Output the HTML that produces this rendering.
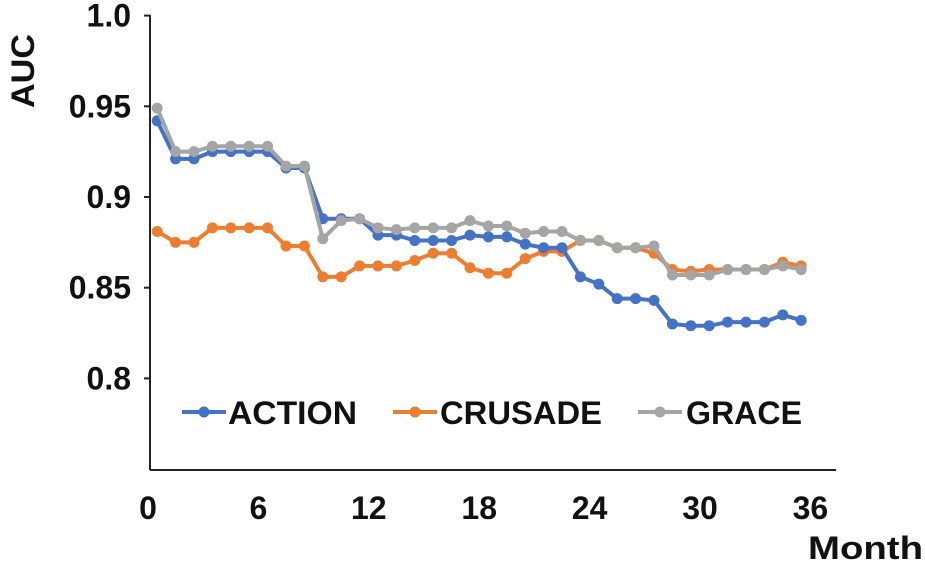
<!DOCTYPE html>
<html><head><style>
body{margin:0;background:#fff;}
text{font-family:"Liberation Sans",sans-serif;font-weight:bold;fill:#111;}
</style></head><body>
<svg id="c" width="925" height="572">
<g id="g"></g>
</svg>
<script>
const months = Array.from({length:36},(_, i)=>i+0.5);
const action = [0.942,0.921,0.921,0.925,0.925,0.925,0.925,0.916,0.916,0.888,0.888,0.888,0.879,0.879,0.876,0.876,0.876,0.879,0.878,0.878,0.874,0.872,0.872,0.856,0.852,0.844,0.844,0.843,0.830,0.829,0.829,0.831,0.831,0.831,0.835,0.832];
const crusade = [0.881,0.875,0.875,0.883,0.883,0.883,0.883,0.873,0.873,0.856,0.856,0.862,0.862,0.862,0.865,0.869,0.869,0.861,0.858,0.858,0.866,0.870,0.870,0.876,0.876,0.872,0.872,0.869,0.860,0.859,0.860,0.860,0.860,0.860,0.864,0.862];
const grace = [0.949,0.925,0.925,0.928,0.928,0.928,0.928,0.917,0.917,0.877,0.887,0.888,0.883,0.882,0.883,0.883,0.883,0.887,0.884,0.884,0.880,0.881,0.881,0.876,0.876,0.872,0.872,0.873,0.857,0.857,0.857,0.860,0.860,0.860,0.862,0.860];
const yTicks = [0.8,0.85,0.9,0.95,1.0];
const yLabels = ["0.8","0.85","0.9","0.95","1.0"];
const xTicks = [0,6,12,18,24,30,36];
const x = m => 148 + m*18.4;
const y = v => 197 + (0.9 - v)*1814;
const NS="http://www.w3.org/2000/svg";
const g=document.getElementById('g');
function mk(t,a){const e=document.createElementNS(NS,t);for(const k in a)e.setAttribute(k,a[k]);g.appendChild(e);return e;}
let e;
e=mk('line',{x1:150,y1:15,x2:150,y2:470,stroke:'#222','stroke-width':2});


e=mk('line',{x1:150,y1:470,x2:836,y2:470,stroke:'#222','stroke-width':2});


yTicks.forEach((v,i)=>{
  mk('line',{x1:144,y1:y(v),x2:150,y2:y(v),stroke:'#222','stroke-width':2});
  e=mk('text',{x:131,y:y(v)+11,'text-anchor':'end','font-size':32});
  e.textContent=yLabels[i];
  
  
});
xTicks.forEach(m=>{
  e=mk('text',{x:x(m),y:519,'text-anchor':'middle','font-size':32});
  e.textContent=m;
  
  
});
e=mk('text',{x:0,y:0,'font-size':32,textLength:74,lengthAdjust:'spacingAndGlyphs',transform:'translate(34,108) rotate(-90)'});
e.textContent='AUC';


e=mk('text',{x:808,y:559,'font-size':32,textLength:115,lengthAdjust:'spacingAndGlyphs'});
e.textContent='Month';


function series(vals,col,name){
  e=mk('polyline',{points:vals.map((v,i)=>x(months[i])+','+y(v)).join(' '),fill:'none',stroke:col,'stroke-width':4});
  
  
  vals.forEach((v,i)=>{
    e=mk('circle',{cx:x(months[i]),cy:y(v),r:5.5,fill:col});
    
    
  });
}
series(crusade,'#ED7D31','crusade');
series(action,'#4472C4','action');
series(grace,'#A5A5A5','grace');
function legend(lx,tx,len,col,label,name){
  mk('line',{x1:lx,y1:412,x2:lx+44,y2:412,stroke:col,'stroke-width':4});
  mk('circle',{cx:lx+22,cy:412,r:5.5,fill:col});
  e=mk('text',{x:tx,y:424,'font-size':32,fill:'#333',textLength:len,lengthAdjust:'spacingAndGlyphs'});
  e.textContent=label;
  
  
}
legend(182,228,129,'#4472C4','ACTION','legend-action');
legend(393,440,162,'#ED7D31','CRUSADE','legend-crusade');
legend(638,686,116,'#A5A5A5','GRACE','legend-grace');
</script>
</body></html>
